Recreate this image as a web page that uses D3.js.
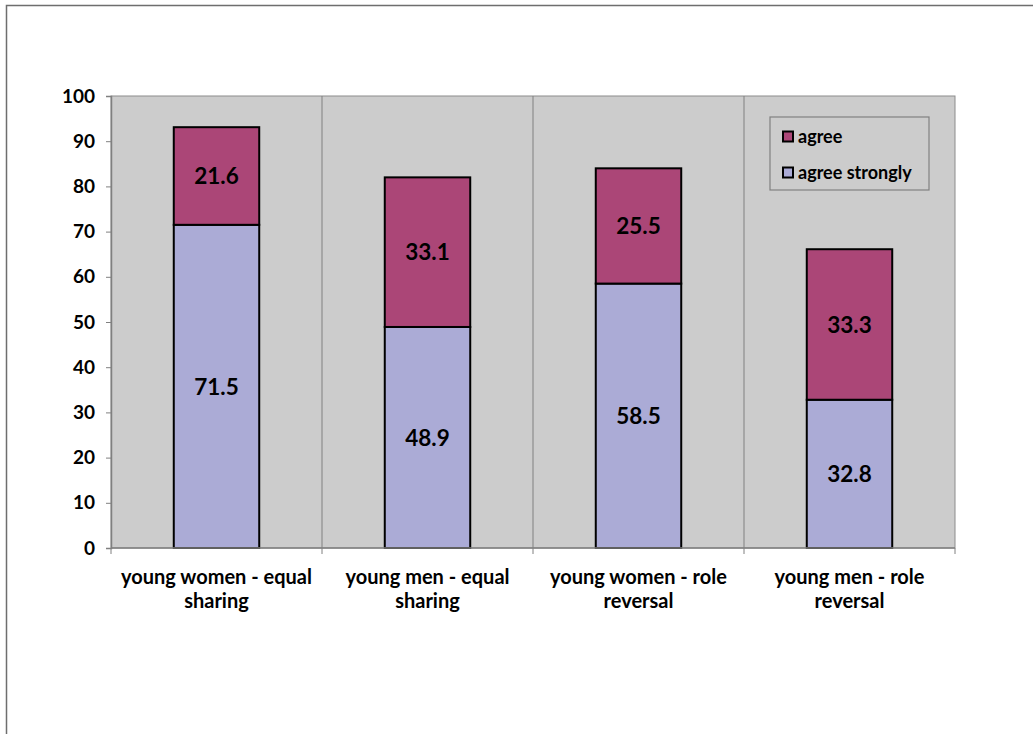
<!DOCTYPE html>
<html>
<head>
<meta charset="utf-8">
<script src="https://cdn.jsdelivr.net/npm/d3@7"></script>
<style>
  html, body { margin: 0; padding: 0; background: #fff; }
  svg { display: block; }
  text { font-family: Lato, "Open Sans", sans-serif; font-weight: bold; fill: #000; }
</style>
</head>
<body>
<svg id="chart" width="1033" height="734"></svg>
<script>
// Survey answers by group (percent)
const categories = [
  ["young women - equal", "sharing"],
  ["young men - equal", "sharing"],
  ["young women - role", "reversal"],
  ["young men - role", "reversal"]
];
const agreeStrongly = [71.5, 48.9, 58.5, 32.8];
const agree = [21.6, 33.1, 25.5, 33.3];
const yTicks = [0, 10, 20, 30, 40, 50, 60, 70, 80, 90, 100];
const seriesNames = ["agree", "agree strongly"];
const seriesColors = { "agree strongly": "#ababd6", "agree": "#ab4677" };

const svg = d3.select("#chart");
const plot = { left: 111, right: 955, top: 96, bottom: 548 };

// outer frame (top and left edges)
svg.append("path")
  .attr("d", `M6.5,734 V5.5 H1033`)
  .attr("fill", "none").attr("stroke", "#6e6e6e").attr("stroke-width", 1.5);

const x = d3.scaleBand().domain(d3.range(categories.length))
  .range([plot.left, plot.right]).paddingInner(0).paddingOuter(0);
const y = d3.scaleLinear().domain([0, 100]).range([plot.bottom, plot.top]);

// plot background
svg.append("rect")
  .attr("x", plot.left).attr("y", plot.top)
  .attr("width", plot.right - plot.left).attr("height", plot.bottom - plot.top)
  .attr("fill", "#cccccc").attr("stroke", "#8c8c8c").attr("stroke-width", 1);

// vertical dividers between categories
svg.append("g").selectAll("line")
  .data(d3.range(1, categories.length))
  .join("line")
  .attr("x1", i => x(i)).attr("x2", i => x(i))
  .attr("y1", plot.top).attr("y2", plot.bottom)
  .attr("stroke", "#808080").attr("stroke-width", 1);

// stacked data
const rows = categories.map((c, i) => ({ i, "agree strongly": agreeStrongly[i], "agree": agree[i] }));
const stack = d3.stack().keys(["agree strongly", "agree"]);
const layers = stack(rows);

const barW = x.bandwidth() * 0.405;
layers.forEach(layer => {
  const g = svg.append("g");
  g.selectAll("rect").data(layer).join("rect")
    .attr("x", d => x(d.data.i) + x.bandwidth() / 2 - barW / 2)
    .attr("y", d => y(d[1]))
    .attr("width", barW)
    .attr("height", d => y(d[0]) - y(d[1]))
    .attr("fill", seriesColors[layer.key])
    .attr("stroke", "#000").attr("stroke-width", 2);
  g.selectAll("text").data(layer).join("text")
    .attr("x", d => x(d.data.i) + x.bandwidth() / 2)
    .attr("y", d => y((d[0] + d[1]) / 2))
    .attr("dy", "0.36em")
    .attr("text-anchor", "middle")
    .attr("font-size", 22.5)
    .text(d => d.data[layer.key].toFixed(1));
});

// y axis
const yAxis = d3.axisLeft(y).tickValues(yTicks).tickSize(5).tickPadding(11);
const gy = svg.append("g").attr("transform", `translate(${plot.left},0)`).call(yAxis);
gy.select(".domain").attr("stroke", "#808080").attr("stroke-width", 1.5);
gy.selectAll(".tick line").attr("stroke", "#808080");
gy.selectAll(".tick text").attr("font-size", 19).attr("font-family", "Lato, sans-serif").attr("font-weight", "bold").attr("fill", "#000");

// x axis line with ticks at category boundaries
const gx = svg.append("g");
gx.append("line").attr("x1", plot.left).attr("x2", plot.right)
  .attr("y1", plot.bottom).attr("y2", plot.bottom)
  .attr("stroke", "#808080").attr("stroke-width", 1.5);
gx.selectAll("line.tk").data(d3.range(0, categories.length + 1)).join("line")
  .attr("class", "tk")
  .attr("x1", i => i < categories.length ? x(i) : plot.right)
  .attr("x2", i => i < categories.length ? x(i) : plot.right)
  .attr("y1", plot.bottom).attr("y2", plot.bottom + 6)
  .attr("stroke", "#808080");

// category labels
categories.forEach((lines, i) => {
  const t = svg.append("text")
    .attr("x", x(i) + x.bandwidth() / 2)
    .attr("y", 584)
    .attr("text-anchor", "middle")
    .attr("font-size", 20);
  lines.forEach((ln, k) => {
    t.append("tspan").attr("x", x(i) + x.bandwidth() / 2).attr("dy", k === 0 ? 0 : 24).text(ln);
  });
});

// legend
const lg = svg.append("g").attr("transform", "translate(770,117)");
lg.append("rect").attr("width", 159).attr("height", 73)
  .attr("fill", "#cccccc").attr("stroke", "#808080").attr("stroke-width", 1.2);
seriesNames.forEach((name, k) => {
  const yy = 19.5 + k * 36;
  lg.append("rect").attr("x", 13).attr("y", yy - 5).attr("width", 10).attr("height", 10)
    .attr("fill", seriesColors[name]).attr("stroke", "#000").attr("stroke-width", 2);
  lg.append("text").attr("x", 28).attr("y", yy).attr("dy", "0.36em")
    .attr("font-size", 18).text(name);
});
</script>
</body>
</html>
